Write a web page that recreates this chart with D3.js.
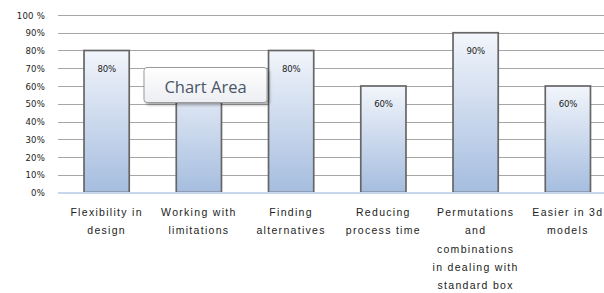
<!DOCTYPE html>
<html><head><meta charset="utf-8">
<script src="https://cdn.jsdelivr.net/npm/d3@7"></script>
<style>
body{margin:0;background:#fff;overflow:hidden;}
svg{display:block;}
</style></head>
<body>
<script>
const categories = [
  ["Flexibility in","design"],
  ["Working with","limitations"],
  ["Finding","alternatives"],
  ["Reducing","process time"],
  ["Permutations","and","combinations","in dealing with","standard box"],
  ["Easier in 3d","models"]
];
const values = [80, 70, 80, 60, 90, 60];
const yTicks = [0,10,20,30,40,50,60,70,80,90,100];
const yTickLabels = ["0%","10%","20%","30%","40%","50%","60%","70%","80%","90%","100 %"];
// index of the bar whose value label is covered by the "Chart Area" tooltip
const coveredIndex = 1;

const W = 604, H = 293;
const svg = d3.select("body").append("svg").attr("width", W).attr("height", H);
const defs = svg.append("defs");
const grad = defs.append("linearGradient").attr("id","bg").attr("x1",0).attr("y1",0).attr("x2",0).attr("y2",1);
grad.append("stop").attr("offset","0%").attr("stop-color","#f2f5fb");
grad.append("stop").attr("offset","100%").attr("stop-color","#a5bddf");
const tg = defs.append("linearGradient").attr("id","tg").attr("x1",0).attr("y1",0).attr("x2",0).attr("y2",1);
tg.append("stop").attr("offset","0%").attr("stop-color","#ffffff");
tg.append("stop").attr("offset","100%").attr("stop-color","#eceef2");
const filt = defs.append("filter").attr("id","sh").attr("x","-20%").attr("y","-20%").attr("width","150%").attr("height","160%");
filt.append("feDropShadow").attr("dx",2).attr("dy",2).attr("stdDeviation",1.5).attr("flood-color","#000").attr("flood-opacity",0.35);

const x = d3.scaleBand().domain(d3.range(categories.length)).range([60.5, 614]).paddingInner(0.51).paddingOuter(0.255);
const y = d3.scaleLinear().domain([0,100]).range([192.5, 15]);

// gridlines
svg.append("g").selectAll("line").data(yTicks.filter(d=>d>0)).join("line")
  .attr("x1", 58).attr("x2", W).attr("y1", d=>Math.round(y(d))+0.5).attr("y2", d=>Math.round(y(d))+0.5)
  .attr("stroke", "#a6a6a6").attr("stroke-width", 1.2);

// y axis labels
const yAxis = d3.axisLeft(y).tickValues(yTicks).tickFormat((d,i)=>yTickLabels[i]).tickSize(0).tickPadding(0);
const ya = svg.append("g").attr("transform","translate(45,0)").call(yAxis);
ya.select(".domain").remove();
ya.selectAll("text").attr("font-family","'DejaVu Sans Condensed', 'DejaVu Sans', sans-serif").attr("font-size","9.5px").attr("fill","#222").attr("letter-spacing","0.2px");

// bars
svg.append("g").selectAll("rect").data(values).join("rect")
  .attr("x", (d,i)=>x(i)).attr("width", x.bandwidth())
  .attr("y", d=>y(d)).attr("height", d=>y(0)-y(d))
  .attr("fill","url(#bg)").attr("stroke","#666").attr("stroke-width",1.7);

// x axis line
svg.append("line").attr("x1",58).attr("x2",W).attr("y1",y(0)+0.5).attr("y2",y(0)+0.5).attr("stroke","#c8d8ec").attr("stroke-width",2);

// value labels (the one under the tooltip is hidden, as in the source)
svg.append("g").selectAll("text").data(values.map((v,i)=>({v,i})).filter(d=>d.i!==coveredIndex)).join("text")
  .attr("x",d=>x(d.i)+x.bandwidth()/2).attr("y", d=>y(d.v)+21)
  .attr("text-anchor","middle")
  .attr("font-family","'DejaVu Sans Condensed', 'DejaVu Sans', sans-serif").attr("font-size","9.5px").attr("fill","#222").attr("letter-spacing","-0.2px")
  .text(d=>d.v+"%");

// category labels
const cg = svg.append("g");
categories.forEach((lines,i)=>{
  const t = cg.append("text").attr("x", x(i)+x.bandwidth()/2).attr("y", 216)
    .attr("text-anchor","middle")
    .attr("font-family","'Liberation Sans', Arial, sans-serif").attr("font-size","10.5px").attr("fill","#222").attr("letter-spacing","1.3px");
  lines.forEach((l,j)=>t.append("tspan").attr("x", x(i)+x.bandwidth()/2).attr("y", 216 + j*18.3).text(l));
});

// Chart Area tooltip
const tip = svg.append("g").attr("transform","translate(144,67.5)");
tip.append("rect").attr("width",123).attr("height",35).attr("rx",3).attr("fill","url(#tg)").attr("stroke","#9a9a9a").attr("filter","url(#sh)");
tip.append("text").attr("x",61.5).attr("y",25).attr("text-anchor","middle")
  .attr("font-family","'Open Sans', 'Noto Sans', sans-serif").attr("font-size","16.5px").attr("fill","#4a5566").text("Chart Area");
</script>
</body></html>
